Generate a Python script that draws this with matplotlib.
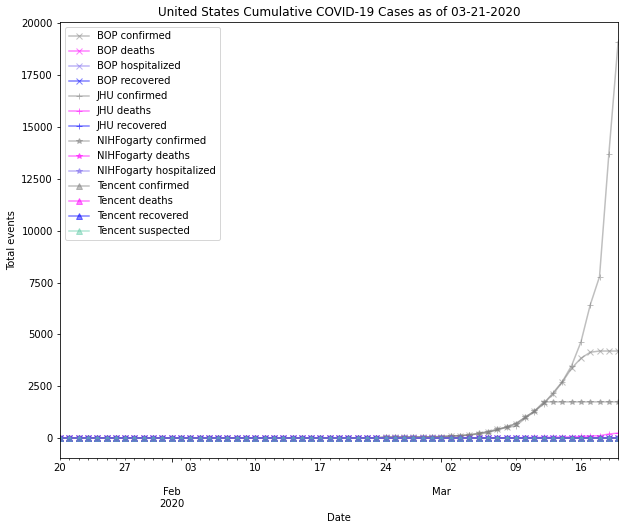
import numpy as np
import pandas as pd
import matplotlib
matplotlib.use("Agg")
import matplotlib.pyplot as plt
import matplotlib.dates as mdates
from matplotlib.ticker import FuncFormatter, NullFormatter

dates = pd.date_range("2020-01-20", "2020-03-20", freq="D")

jan = [0, 0, 1, 1, 2, 2, 5, 5, 5, 5, 5, 7]
feb = [8, 8, 11, 11, 11, 11, 11, 11, 11, 11, 12, 12, 13, 13, 13, 13, 13, 13, 13, 13,
       15, 15, 15, 51, 51, 57, 58, 60, 68]

jhu_confirmed = jan + feb + [74, 98, 118, 149, 217, 262, 402, 518, 583, 959, 1281, 1663,
                             2179, 2726, 3499, 4632, 6421, 7783, 13677, 19100]
jhu_deaths = [0] * 40 + [1, 1, 6, 7, 11, 12, 14, 17, 21, 22, 28, 36, 40, 47, 54, 63,
                         85, 108, 118, 200, 244]
jhu_recovered = [0] * 61

bop_confirmed = jan + feb + [75, 100, 125, 150, 220, 300, 420, 540, 700, 1000, 1300, 1680,
                             2130, 2700, 3370, 3850, 4140, 4200, 4200, 4200]
bop_deaths = [0] * 61
bop_hospitalized = [0] * 61
bop_recovered = [0] * 61

nih_confirmed = jan + feb + [75, 100, 125, 160, 230, 320, 420, 530, 700, 1000, 1300, 1750,
                             1750, 1750, 1750, 1750, 1750, 1750, 1750, 1750]
nih_deaths = [0] * 61
nih_hospitalized = [0] * 61

tencent_confirmed = [0] * 61
tencent_deaths = [0] * 61
tencent_recovered = [0] * 61
tencent_suspected = [0] * 61

month_ticks = ["2020-02-01", "2020-03-01"]
month_labels = ["Feb\n2020", "Mar"]

series = [
    ("BOP confirmed", bop_confirmed, "x", "grey"),
    ("BOP deaths", bop_deaths, "x", "magenta"),
    ("BOP hospitalized", bop_hospitalized, "x", "mediumslateblue"),
    ("BOP recovered", bop_recovered, "x", "blue"),
    ("JHU confirmed", jhu_confirmed, "+", "grey"),
    ("JHU deaths", jhu_deaths, "+", "magenta"),
    ("JHU recovered", jhu_recovered, "+", "blue"),
    ("NIHFogarty confirmed", nih_confirmed, "*", "grey"),
    ("NIHFogarty deaths", nih_deaths, "*", "magenta"),
    ("NIHFogarty hospitalized", nih_hospitalized, "*", "mediumslateblue"),
    ("Tencent confirmed", tencent_confirmed, "^", "grey"),
    ("Tencent deaths", tencent_deaths, "^", "magenta"),
    ("Tencent recovered", tencent_recovered, "^", "blue"),
    ("Tencent suspected", tencent_suspected, "^", "mediumaquamarine"),
]

DPI = 72
fig = plt.figure(figsize=(625 / DPI, 531 / DPI), dpi=DPI)
ax = fig.add_axes([0.096, 0.1375, 0.893, 0.821])

for label, vals, mk, col in series:
    ax.plot(dates, vals, marker=mk, color=col, alpha=0.5, label=label)

ax.set_xlim(dates[0], dates[-1])

mt = pd.to_datetime(month_ticks)
ax.set_xticks(mt)
ax.xaxis.set_major_formatter(NullFormatter())
for d, lab in zip(mt, month_labels):
    ax.annotate(lab, xy=(d, 0), xycoords=("data", "axes fraction"),
                xytext=(0, -29), textcoords="offset points",
                ha="center", va="top", fontsize=10)

ax.xaxis.set_minor_locator(mdates.DayLocator())
def minor_fmt(x, pos):
    d = mdates.num2date(x)
    return d.strftime("%d") if d.weekday() == 0 else ""
ax.xaxis.set_minor_formatter(FuncFormatter(minor_fmt))

ax.set_title("United States Cumulative COVID-19 Cases as of 03-21-2020", fontsize=12)
ax.set_ylabel("Total events")
ax.set_xlabel("Date")
ax.xaxis.set_label_coords(0.5, -0.126)
ax.legend(loc="upper left")

fig.savefig("out.png", dpi=DPI)
